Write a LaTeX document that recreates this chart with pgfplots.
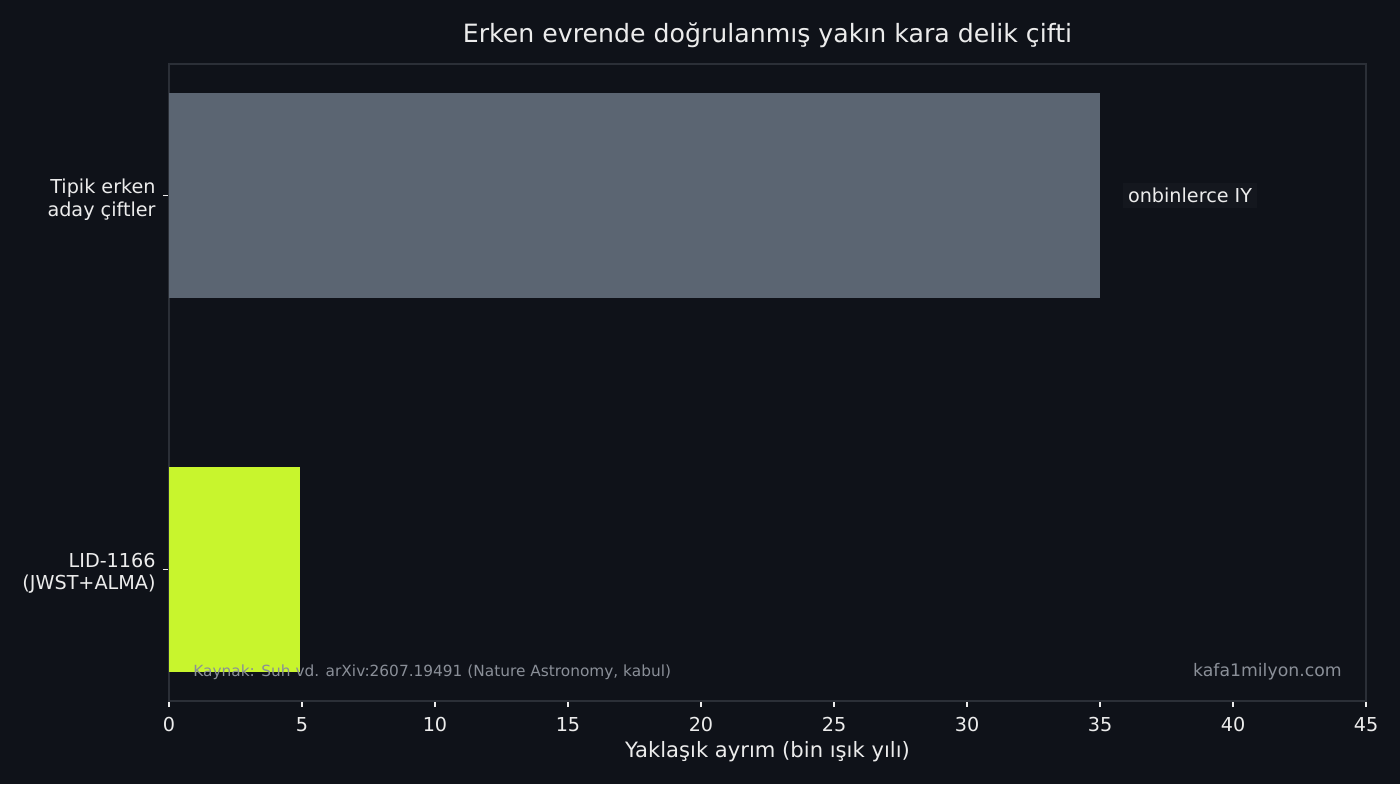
\documentclass[border=0pt]{standalone}
\usepackage{fontspec}
\setmainfont{DejaVu Sans}
\usepackage{pgfplots}
\pgfplotsset{compat=1.18}

\definecolor{bgcol}{HTML}{0F1219}
\definecolor{framecol}{HTML}{2B2F37}
\definecolor{txtcol}{HTML}{ECECEC}
\definecolor{graybar}{HTML}{5B6572}
\definecolor{limebar}{HTML}{C8F52D}
\definecolor{srccol}{HTML}{8A8F98}
\definecolor{lblbg}{HTML}{14171E}

\begin{document}
\begin{tikzpicture}
\useasboundingbox (-84.5pt,-41.5pt) rectangle (615.5pt,350.5pt);
\fill[bgcol] (-84.5pt,-41.5pt) rectangle (615.5pt,350.5pt);
\begin{axis}[
    at={(0,0)}, anchor=south west,
    scale only axis,
    width=598.5pt, height=318.5pt,
    xmin=0, xmax=45,
    ymin=-0.3525, ymax=1.3525,
    xtick={0,5,...,45},
    ytick={0,1},
    yticklabels={{LID-1166\\(JWST+ALMA)},{Tipik erken\\aday çiftler}},
    xtick pos=bottom, ytick pos=left,
    tick align=outside,
    major tick length=3pt,
    tick style={color=txtcol, line width=0.6pt},
    axis line style={framecol, line width=0.8pt},
    /pgf/number format/assume math mode=true,
    xticklabel style={font=\fontsize{9.6}{11.5}\selectfont, text=txtcol, inner sep=0pt, anchor=north, yshift=-5pt},
    yticklabel style={font=\fontsize{9.6}{11.2}\selectfont, text=txtcol, inner sep=0pt, align=right, anchor=east, xshift=-3.5pt, yshift=-2pt},
    xlabel={Yaklaşık ayrım (bin ışık yılı)},
    xlabel style={at={(axis description cs:0.5,0)}, anchor=base, yshift=-28pt, font=\fontsize{10.56}{12}\selectfont, text=txtcol},
    title={Erken evrende doğrulanmış yakın kara delik çifti},
    title style={at={(axis description cs:0.5,1)}, anchor=base, yshift=5pt, font=\fontsize{12.6}{15}\selectfont, text=txtcol},
    clip=false,
]
    \addplot[xbar, bar shift=0pt, bar width=0.55, fill=graybar, draw=none] coordinates {(35,1)};
    \addplot[xbar, bar shift=0pt, bar width=0.55, fill=limebar, draw=none] coordinates {(4.93,0)};

    \node[anchor=west, fill=lblbg, inner sep=2.5pt, text=txtcol, font=\fontsize{9.6}{11.5}\selectfont] at (axis cs:35.85,1) {onbinlerce IY};

    \node[anchor=base west, inner sep=0pt, text=srccol, font=\fontsize{7.68}{9}\selectfont] at (axis description cs:0.02,0.038) {Kaynak: Suh vd. arXiv:2607.19491 (Nature Astronomy, kabul)};
    \node[anchor=base east, inner sep=0pt, text=srccol, font=\fontsize{8.64}{10}\selectfont] at (axis description cs:0.98,0.038) {kafa1milyon.com};
\end{axis}
\end{tikzpicture}
\end{document}
